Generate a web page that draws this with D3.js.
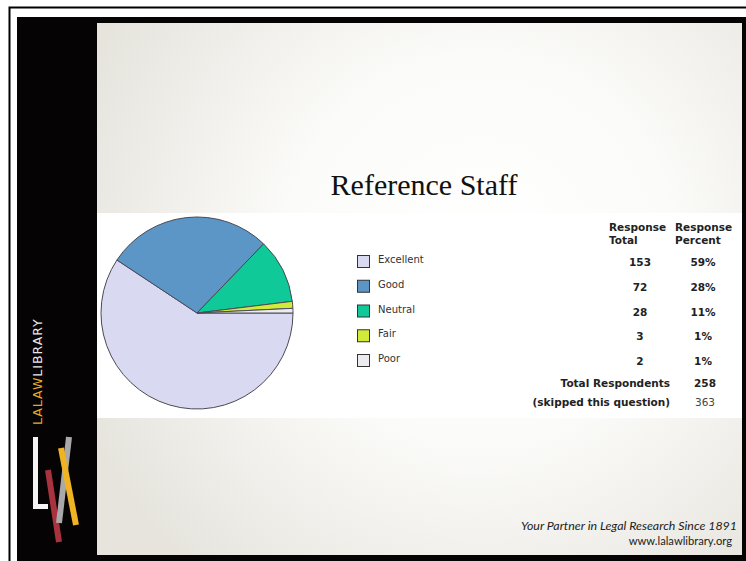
<!DOCTYPE html>
<html>
<head>
<meta charset="utf-8">
<script src="https://cdn.jsdelivr.net/npm/d3@7"></script>
<style>
  body { margin: 0; background: #fff; }
  svg { display: block; }
</style>
</head>
<body>
<svg id="slide" width="746" height="561"></svg>
<script>
// survey data
const categories = ["Excellent", "Good", "Neutral", "Fair", "Poor"];
const responseTotals = [153, 72, 28, 3, 2];
const responsePercents = ["59%", "28%", "11%", "1%", "1%"];
const sliceColors = ["#d9d9f1", "#5b96c6", "#0fca98", "#d2eb3a", "#ececf0"];
const totalRespondents = 258;
const skippedQuestion = 363;

const svg = d3.select("#slide");

// background gradient for the slide content
const defs = svg.append("defs");
const grad = defs.append("radialGradient")
    .attr("id", "bg")
    .attr("gradientUnits", "userSpaceOnUse")
    .attr("cx", 480).attr("cy", 250).attr("r", 430);
grad.append("stop").attr("offset", "0%").attr("stop-color", "#ffffff");
grad.append("stop").attr("offset", "45%").attr("stop-color", "#fbfbf9");
grad.append("stop").attr("offset", "100%").attr("stop-color", "#e6e4dd");

// frame lines
svg.append("path")
    .attr("d", "M9.5,561 V7.5 H746")
    .attr("fill", "none").attr("stroke", "#000").attr("stroke-width", 2);
svg.append("rect")
    .attr("x", 17).attr("y", 17).attr("width", 729).attr("height", 544)
    .attr("fill", "#050303");

// content area
svg.append("rect")
    .attr("x", 97).attr("y", 23).attr("width", 645).attr("height", 532)
    .attr("fill", "url(#bg)");
// white band holding the survey chart
svg.append("rect")
    .attr("x", 97).attr("y", 213).attr("width", 645).attr("height", 205)
    .attr("fill", "#ffffff");

// title
svg.append("text")
    .attr("x", 424).attr("y", 195)
    .attr("text-anchor", "middle")
    .style("font-family", "'Liberation Serif', 'DejaVu Serif', serif")
    .style("font-size", "30px")
    .attr("fill", "#111")
    .text("Reference Staff");

// pie
const pie = d3.pie().sort(null)
    .startAngle(Math.PI / 2)
    .endAngle(Math.PI / 2 + 2 * Math.PI)
    .value(d => d);
const arc = d3.arc().innerRadius(0).outerRadius(96);
const color = d3.scaleOrdinal().domain(categories).range(sliceColors);

svg.append("g")
    .attr("transform", "translate(197,313)")
    .selectAll("path")
    .data(pie(responseTotals))
    .enter().append("path")
    .attr("d", arc)
    .attr("fill", (d, i) => color(categories[i]))
    .attr("stroke", "#4a4a55")
    .attr("stroke-width", 1);

// rows shared by legend and table
const rowY = d3.scalePoint().domain(categories).range([262, 361]);

const legend = svg.append("g").selectAll("g")
    .data(categories)
    .enter().append("g")
    .attr("transform", d => "translate(357," + rowY(d) + ")");
legend.append("rect")
    .attr("x", 0.5).attr("y", -6.5).attr("width", 12).attr("height", 12)
    .attr("fill", d => color(d))
    .attr("stroke", "#333").attr("stroke-width", 1);
legend.append("text")
    .attr("x", 21).attr("y", 1)
    .style("font-family", "'DejaVu Sans', Verdana, sans-serif")
    .style("font-size", "10px")
    .attr("fill", "#333")
    .text(d => d);

// table
const tableFont = "'DejaVu Sans', Verdana, sans-serif";
const header = svg.append("g")
    .style("font-family", tableFont)
    .style("font-size", "10.5px")
    .style("font-weight", "bold")
    .attr("fill", "#222");
header.append("text").attr("x", 609).attr("y", 231).text("Response");
header.append("text").attr("x", 609).attr("y", 244).text("Total");
header.append("text").attr("x", 675).attr("y", 231).text("Response");
header.append("text").attr("x", 675).attr("y", 244).text("Percent");

const rows = svg.append("g").selectAll("g")
    .data(categories)
    .enter().append("g")
    .attr("transform", d => "translate(0," + (rowY(d) + 4) + ")")
    .style("font-family", tableFont)
    .style("font-size", "10.5px")
    .style("font-weight", "bold")
    .attr("fill", "#222");
rows.append("text")
    .attr("x", 640).attr("text-anchor", "middle")
    .text((d, i) => responseTotals[i]);
rows.append("text")
    .attr("x", 703).attr("text-anchor", "middle")
    .text((d, i) => responsePercents[i]);

const summary = svg.append("g")
    .style("font-family", tableFont)
    .style("font-size", "10.5px")
    .attr("fill", "#222");
summary.append("text").attr("x", 670).attr("y", 387)
    .attr("text-anchor", "end").style("font-weight", "bold").text("Total Respondents");
summary.append("text").attr("x", 705).attr("y", 387)
    .attr("text-anchor", "middle").style("font-weight", "bold").text(totalRespondents);
summary.append("text").attr("x", 670).attr("y", 406)
    .attr("text-anchor", "end").style("font-weight", "bold").text("(skipped this question)");
summary.append("text").attr("x", 705).attr("y", 406)
    .attr("text-anchor", "middle").attr("fill", "#444").text(skippedQuestion);

// footer
svg.append("text")
    .attr("x", 737).attr("y", 530).attr("text-anchor", "end")
    .style("font-family", "Lato, 'Open Sans', sans-serif")
    .style("font-size", "12.4px").style("font-style", "italic")
    .attr("fill", "#222")
    .text("Your Partner in Legal Research Since 1891");
svg.append("text")
    .attr("x", 732).attr("y", 545).attr("text-anchor", "end")
    .style("font-family", "Lato, 'Open Sans', sans-serif")
    .style("font-size", "11.2px")
    .attr("fill", "#222")
    .text("www.lalawlibrary.org");

// sidebar brand text
const brand = svg.append("text")
    .attr("transform", "translate(42,425) rotate(-90)")
    .style("font-family", "'DejaVu Sans', sans-serif")
    .style("font-size", "12.5px")
    .style("letter-spacing", "1px");
brand.append("tspan").attr("fill", "#e3a92c").text("LALAW");
brand.append("tspan").attr("fill", "#e8e8e8").text("LIBRARY");

// logo marks
const logo = svg.append("g");
logo.append("path")
    .attr("d", "M35.5,437 V506.5 H48")
    .attr("fill", "none").attr("stroke", "#f4f4f4").attr("stroke-width", 5);
logo.append("line")
    .attr("x1", 48).attr("y1", 470).attr("x2", 59).attr("y2", 542)
    .attr("stroke", "#a8323e").attr("stroke-width", 6);
logo.append("line")
    .attr("x1", 69).attr("y1", 437).attr("x2", 59).attr("y2", 523)
    .attr("stroke", "#a9a9ab").attr("stroke-width", 6);
logo.append("line")
    .attr("x1", 61).attr("y1", 448).attr("x2", 76).attr("y2", 525)
    .attr("stroke", "#efb324").attr("stroke-width", 6);
</script>
</body>
</html>
